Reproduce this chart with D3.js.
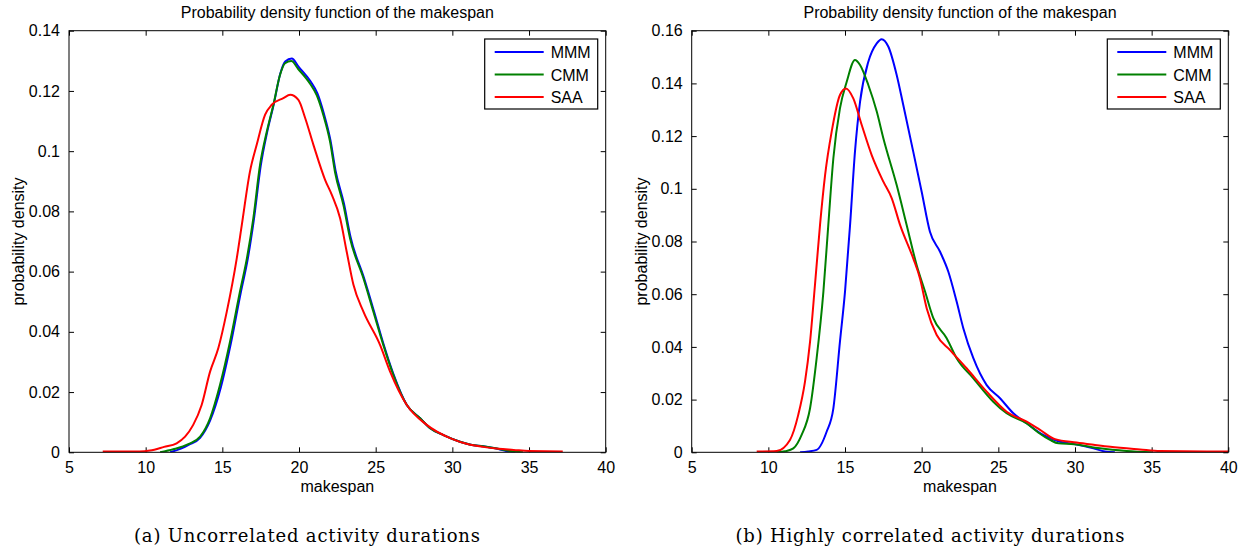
<!DOCTYPE html>
<html>
<head>
<meta charset="utf-8">
<script src="https://cdn.jsdelivr.net/npm/d3@7"></script>
<style>
  body { margin: 0; background: #fff; }
  svg text { font-family: "Liberation Sans", Arial, sans-serif; fill: #000; }
  .caption { font-family: "DejaVu Serif", "Liberation Serif", serif; }
</style>
</head>
<body>
<svg id="chart" width="1247" height="554"></svg>
<script>
var width = 1247,
    height = 554;

var seriesNames = ["MMM", "CMM", "SAA"];
var seriesColors = ["#0000ff", "#008000", "#ff0000"];

var xTicks = [5, 10, 15, 20, 25, 30, 35, 40];
var yTicksA = [0, 0.02, 0.04, 0.06, 0.08, 0.1, 0.12, 0.14];
var yTicksB = [0, 0.02, 0.04, 0.06, 0.08, 0.1, 0.12, 0.14, 0.16];

// (a) uncorrelated activity durations: [makespan, density]
var uncorrMMM = [[11.6, 0], [12.3, 0.0012], [12.8, 0.0025], [13.55, 0.0048], [14.2, 0.0105],
    [14.9, 0.0215], [15.55, 0.036], [16.2, 0.053], [16.65, 0.064], [17.05, 0.077],
    [17.5, 0.095], [17.93, 0.1065], [18.35, 0.1155], [18.78, 0.1258], [19.1, 0.1298],
    [19.53, 0.1308], [19.98, 0.128], [20.75, 0.1232], [21.2, 0.1192], [21.62, 0.1125],
    [22.05, 0.1036], [22.38, 0.0936], [22.93, 0.0826], [23.36, 0.0715], [24.23, 0.058],
    [24.88, 0.047], [25.52, 0.0358], [26.17, 0.0258], [27.03, 0.0157], [27.9, 0.0113],
    [28.55, 0.008], [29.42, 0.0057], [30.5, 0.0035], [31.2, 0.0025], [32, 0.002],
    [33, 0.0011], [33.6, 0.0003], [34.1, 0]];
var uncorrCMM = [[10.94, 0], [11.8, 0.001], [12.78, 0.0027], [13.55, 0.0052], [14.2, 0.0113],
    [14.85, 0.0224], [15.5, 0.0367], [16.15, 0.0534], [16.6, 0.0644], [17.02, 0.0777],
    [17.46, 0.0955], [17.9, 0.1065], [18.33, 0.1154], [18.76, 0.1253], [19.09, 0.1292],
    [19.5, 0.1299], [19.96, 0.1272], [20.72, 0.1224], [21.16, 0.1185], [21.59, 0.1119],
    [22.03, 0.103], [22.35, 0.093], [22.9, 0.082], [23.33, 0.071], [24.2, 0.0578],
    [24.85, 0.0467], [25.5, 0.0356], [26.15, 0.0257], [27.03, 0.0157], [27.9, 0.0113],
    [28.55, 0.008], [29.42, 0.0057], [30.5, 0.0035], [31.2, 0.0025], [32, 0.002],
    [33, 0.0012], [33.8, 0.0004], [34.6, 0]];
var uncorrSAA = [[7.2, 0.0003], [9.6, 0.0003], [10.28, 0.0006], [11.2, 0.0018], [12.02, 0.003],
    [12.57, 0.0052], [13.1, 0.0091], [13.65, 0.0157], [14.2, 0.0268], [14.74, 0.0346],
    [15.29, 0.0467], [15.94, 0.0644], [16.27, 0.0755], [16.8, 0.0932], [17.24, 0.1021],
    [17.79, 0.1121], [18.22, 0.1154], [18.98, 0.1176], [19.42, 0.1187], [19.96, 0.117],
    [20.4, 0.111], [20.94, 0.1021], [21.7, 0.0905], [22.14, 0.0855], [22.68, 0.0777],
    [23.11, 0.0666], [23.55, 0.0556], [24.2, 0.0467], [25.29, 0.0356], [25.94, 0.0268],
    [27.03, 0.0157], [28.33, 0.0091], [29.85, 0.0047], [31.16, 0.0025], [32, 0.0018],
    [33, 0.0012], [34, 0.0008], [35, 0.0004], [37.2, 0.0003]];

// (b) highly correlated activity durations
var corrMMM = [[12.07, 0], [12.6, 0.0003], [13.15, 0.0009], [13.8, 0.0078], [14.24, 0.0167],
    [14.67, 0.042], [15.0, 0.061], [15.33, 0.0863], [15.65, 0.1141], [15.98, 0.133],
    [16.52, 0.1482], [17.07, 0.1552], [17.39, 0.1568], [17.83, 0.1539], [18.37, 0.1432],
    [18.8, 0.1318], [19.45, 0.1141], [20.0, 0.0989], [20.54, 0.0837], [21.2, 0.0761],
    [21.74, 0.0685], [22.28, 0.0572], [22.72, 0.047], [23.37, 0.0357], [24.24, 0.0255],
    [25.11, 0.0205], [25.98, 0.0148], [26.85, 0.011], [27.93, 0.0066], [29.02, 0.004],
    [29.95, 0.0031], [31.2, 0.0015], [31.96, 0.0003], [32.6, 0]];
var corrCMM = [[10.54, 0], [11.1, 0.0004], [11.63, 0.0015], [12.17, 0.0066], [12.72, 0.0167],
    [13.15, 0.0357], [13.59, 0.061], [13.91, 0.0863], [14.24, 0.1116], [14.67, 0.1305],
    [15.11, 0.1406], [15.65, 0.1489], [15.98, 0.147], [16.52, 0.1394], [17.07, 0.1293],
    [17.5, 0.1192], [18.37, 0.1014], [19.02, 0.0863], [19.67, 0.0711], [20.22, 0.061],
    [20.76, 0.0509], [21.63, 0.0433], [22.28, 0.0357], [23.37, 0.0281], [24.67, 0.0192],
    [25.54, 0.0148], [26.85, 0.011], [27.6, 0.0075], [28.37, 0.0047], [28.92, 0.0034],
    [29.94, 0.0031], [31.63, 0.0015], [33.37, 0.0005], [35, 0]];
var corrSAA = [[9.24, 0.0003], [10.54, 0.0005], [11.41, 0.0047], [11.95, 0.0142], [12.39, 0.0268],
    [12.72, 0.042], [13.04, 0.0635], [13.37, 0.0863], [13.7, 0.1052], [14.13, 0.1217],
    [14.67, 0.1356], [15.06, 0.1381], [15.54, 0.1343], [16.09, 0.1242], [16.74, 0.1128],
    [17.5, 0.1027], [18.05, 0.0964], [18.59, 0.0863], [19.45, 0.0736], [19.89, 0.066],
    [20.33, 0.0546], [20.98, 0.0445], [21.85, 0.0388], [22.93, 0.0319], [24.24, 0.023],
    [25.54, 0.0154], [26.85, 0.0116], [27.72, 0.0085], [28.7, 0.005], [30.1, 0.0037],
    [31.3, 0.0028], [32.3, 0.0021], [34.24, 0.0011], [35.55, 0.0005], [40, 0.0003]];

var panels = [
    { left: 69, right: 605.7, top: 30.7, bottom: 452.3, yMax: 0.14, yTicks: yTicksA,
      series: [uncorrMMM, uncorrCMM, uncorrSAA],
      caption: "(a) Uncorrelated activity durations", captionX: 307, captionW: 346 },
    { left: 691.7, right: 1228.3, top: 30.7, bottom: 452.3, yMax: 0.16, yTicks: yTicksB,
      series: [corrMMM, corrCMM, corrSAA],
      caption: "(b) Highly correlated activity durations", captionX: 930, captionW: 389 }
];

var svg = d3.select("#chart");
svg.append("rect").attr("width", width).attr("height", height).attr("fill", "#fff");

var fmt = function (d) { return d === 0 ? "0" : String(+d.toFixed(2)); };

panels.forEach(function (p, k) {
    var x = d3.scaleLinear().domain([5, 40]).range([p.left, p.right]);
    var y = d3.scaleLinear().domain([0, p.yMax]).range([p.bottom, p.top]);
    var g = svg.append("g");
    var tick = 5;

    var clipId = "clip" + k;
    svg.append("clipPath").attr("id", clipId)
        .append("rect")
        .attr("x", p.left).attr("y", p.top)
        .attr("width", p.right - p.left).attr("height", p.bottom - p.top);

    // axes (ticks inward, box on)
    g.append("g").attr("transform", "translate(0," + p.bottom + ")")
        .call(d3.axisBottom(x).tickValues(xTicks).tickSizeInner(-tick).tickSizeOuter(0).tickPadding(9))
        .call(function (a) { a.select(".domain").remove(); });
    g.append("g").attr("transform", "translate(0," + p.top + ")")
        .call(d3.axisTop(x).tickValues(xTicks).tickSizeInner(-tick).tickSizeOuter(0).tickFormat(""))
        .call(function (a) { a.select(".domain").remove(); });
    g.append("g").attr("transform", "translate(" + p.left + ",0)")
        .call(d3.axisLeft(y).tickValues(p.yTicks).tickSizeInner(-tick).tickSizeOuter(0).tickPadding(9).tickFormat(fmt))
        .call(function (a) { a.select(".domain").remove(); });
    g.append("g").attr("transform", "translate(" + p.right + ",0)")
        .call(d3.axisRight(y).tickValues(p.yTicks).tickSizeInner(-tick).tickSizeOuter(0).tickFormat(""))
        .call(function (a) { a.select(".domain").remove(); });

    g.selectAll(".tick line").attr("stroke", "#000").attr("stroke-width", 1);
    g.selectAll(".tick text").style("font-size", "16px").attr("fill", "#000")
        .style("font-family", "'Liberation Sans', Arial, sans-serif");

    // curves
    var line = d3.line()
        .x(function (d) { return x(d[0]); })
        .y(function (d) { return y(d[1]); })
        .curve(d3.curveMonotoneX);

    g.append("g").attr("clip-path", "url(#" + clipId + ")")
        .selectAll("path")
        .data(p.series)
        .enter()
        .append("path")
        .attr("d", line)
        .attr("fill", "none")
        .attr("stroke", function (d, i) { return seriesColors[i]; })
        .attr("stroke-width", 2)
        .attr("stroke-linejoin", "round");

    // frame
    g.append("rect")
        .attr("x", p.left).attr("y", p.top)
        .attr("width", p.right - p.left).attr("height", p.bottom - p.top)
        .attr("fill", "none").attr("stroke", "#000").attr("stroke-width", 1);

    // title and labels
    var cx = (p.left + p.right) / 2;
    g.append("text").attr("x", cx).attr("y", 18)
        .attr("text-anchor", "middle").style("font-size", "16px")
        .text("Probability density function of the makespan");
    g.append("text").attr("x", cx).attr("y", p.bottom + 40)
        .attr("text-anchor", "middle").style("font-size", "16px")
        .text("makespan");
    g.append("text")
        .attr("transform", "translate(" + (p.left - 45) + "," + ((p.top + p.bottom) / 2) + ") rotate(-90)")
        .attr("text-anchor", "middle").style("font-size", "16px")
        .text("probability density");

    // legend
    var lw = 113, lh = 70;
    var lx = p.right - 8 - lw, ly = p.top + 8.3;
    var legend = g.append("g").attr("transform", "translate(" + lx + "," + ly + ")");
    legend.append("rect").attr("width", lw).attr("height", lh)
        .attr("fill", "#fff").attr("stroke", "#000").attr("stroke-width", 1.2);
    seriesNames.forEach(function (name, i) {
        var ry = 13 + i * 22.5;
        legend.append("line").attr("x1", 10).attr("x2", 59).attr("y1", ry).attr("y2", ry)
            .attr("stroke", seriesColors[i]).attr("stroke-width", 2);
        legend.append("text").attr("x", 66).attr("y", ry + 6)
            .style("font-size", "16px").text(name);
    });

    // caption
    svg.append("text").attr("class", "caption")
        .attr("x", p.captionX).attr("y", 542)
        .attr("text-anchor", "middle").style("font-size", "18px")
        .attr("textLength", p.captionW).attr("lengthAdjust", "spacing")
        .text(p.caption);
});
</script>
</body>
</html>
